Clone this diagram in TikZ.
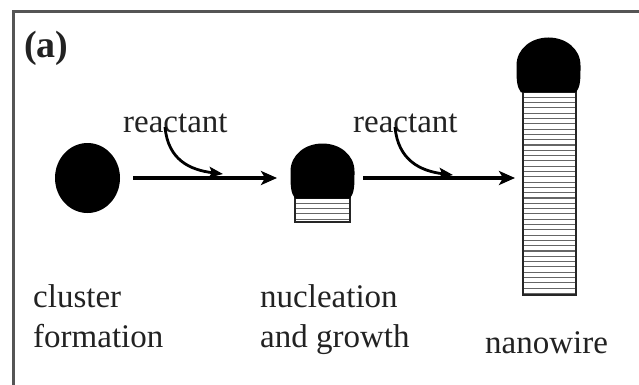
\documentclass[tikz,border=0pt]{standalone}
\usepackage{fontspec}
\setmainfont{Liberation Serif}
\usetikzlibrary{arrows.meta,shapes.geometric}
\definecolor{txt}{HTML}{222222}
\definecolor{frm}{HTML}{555555}
\begin{document}
\begin{tikzpicture}[x=1pt,y=-1pt,
  lbl/.style={font=\fontsize{33}{40}\selectfont, text=txt, inner sep=0pt, anchor=base west},
  mainarrow/.style={line width=3.4pt, -{Stealth[length=16pt,width=14pt,inset=4pt]}},
  curvearrow/.style={line width=2.8pt, -{Stealth[length=14pt,width=11pt,inset=3pt]}},
  wire/.style={rectangle, draw=black!85, line width=2.4pt, inner sep=0pt, fill=white,
    path picture={\foreach \k in {1,...,45}{\draw[black!60, line width=1.1pt]
      ([yshift=-\k*5.3pt]path picture bounding box.north west) --
      ([yshift=-\k*5.3pt]path picture bounding box.north east);}}},
  cap/.pic={\fill[black] (-27.5,0) .. controls (-32,-6) and (-32,-13) .. (-32,-27)
      .. controls (-32,-44) and (-17,-55) .. (0,-55)
      .. controls (17,-55) and (32,-44) .. (32,-27)
      .. controls (32,-13) and (32,-6) .. (27.5,0) -- cycle;}
]
\useasboundingbox (0,0) rectangle (639,385);
\clip (0,0) rectangle (639,385);
\draw[frm, line width=3pt] (13,12) rectangle (660,400);

\node[font=\fontsize{38}{44}\selectfont\bfseries, text=txt, inner sep=0pt, anchor=base west] (lab) at (24,58) {(a)};

% cluster
\node[ellipse, fill=black, minimum width=65pt, minimum height=70pt, inner sep=0pt] (cluster) at (87.5,178) {};

% nucleation
\node[wire, minimum width=55pt, minimum height=24pt] (nucrect) at (322.5,210) {};
\pic at (322.5,198.5) {cap};

% nanowire
\node[wire, minimum width=53pt, minimum height=203pt] (nwrect) at (549.5,193.5) {};
\pic at (548.5,92.5) {cap};

% arrows
\coordinate (a1s) at (133,178);
\coordinate (a1e) at (277,178);
\coordinate (a2s) at (363,178);
\coordinate (a2e) at (515,178);
\draw[mainarrow] (a1s) -- (a1e);
\draw[mainarrow] (a2s) -- (a2e);

\node[lbl] (r1) at (123,132) {reactant};
\node[lbl] (r2) at (353,132) {reactant};
\coordinate (c1s) at (165,127);
\coordinate (c1e) at (223,174);
\coordinate (c2s) at (395,127);
\coordinate (c2e) at (453,175);
\draw[curvearrow] (c1s) .. controls (168,160) and (190,170) .. (c1e);
\draw[curvearrow] (c2s) .. controls (398,160) and (420,171) .. (c2e);

% labels
\node[lbl] (l1a) at (33,307) {cluster};
\node[lbl] (l1b) at (33,347) {formation};
\node[lbl] (l2a) at (260,307) {nucleation};
\node[lbl] (l2b) at (260,347) {and growth};
\node[lbl] (l3) at (485,353) {nanowire};
\end{tikzpicture}
\end{document}
